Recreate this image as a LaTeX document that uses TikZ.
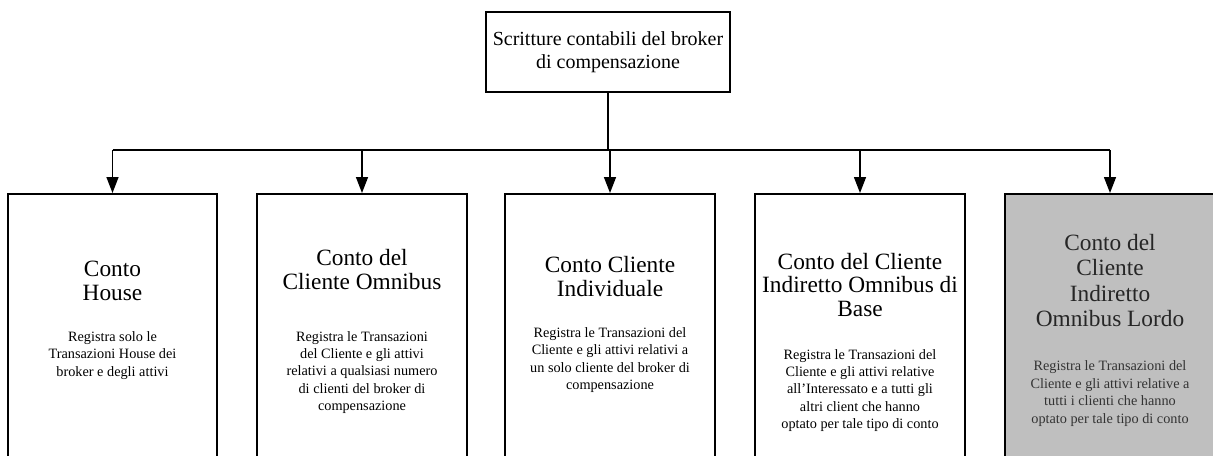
\documentclass[tikz,border=0pt]{standalone}
\usepackage{fontspec}
\setmainfont{Liberation Serif}
\usetikzlibrary{arrows.meta}
\begin{document}
\begin{tikzpicture}[x=0.75pt,y=-0.75pt,
  topbox/.style={draw=black,line width=1.5pt,minimum width=183pt,minimum height=60pt,align=center,inner sep=0pt,font=\fontsize{15}{17.2}\selectfont},
  acct/.style={draw=black,line width=1.5pt,minimum width=157pt,minimum height=217pt,anchor=north,inner sep=0pt},
  shaded/.style={fill=black!25},
  ttl/.style={align=center,inner sep=0pt,font=\fontsize{17.5}{17.8}\selectfont},
  dsc/.style={align=center,inner sep=0pt,font=\fontsize{10.7}{13.1}\selectfont},
  conn/.style={line width=1.1pt},
  arr/.style={line width=1.1pt,-{Triangle[length=12pt,width=9pt]}}]
\useasboundingbox (0,0) rectangle (1213,455);
\clip (0,0) rectangle (1213,455);
\fill[white] (0,0) rectangle (1213,455);

\node[topbox] (top) at (608,52) {Scritture contabili del broker\\di compensazione};

\node[acct] (b1) at (112.5,193) {};
\node[acct] (b2) at (362,193) {};
\node[acct] (b3) at (610,193) {};
\node[acct] (b4) at (860,193) {};
\node[acct,shaded] (b5) at (1110,193) {};

\coordinate (bus) at (608,150);
\draw[conn] (top.south) -- (top.south |- bus);
\draw[conn] (b1.north |- bus) -- (b5.north |- bus);
\foreach \b in {b1,b2,b3,b4,b5} \draw[arr] (\b.north |- bus) -- (\b.north);

\node[ttl] (t1) at (112.5,281) {Conto\\House};
\node[dsc] (d1) at (112.5,355.5) {Registra solo le\\Transazioni House dei\\broker e degli attivi};

\node[ttl] (t2) at (362,269.5) {Conto del\\Cliente Omnibus};
\node[dsc] (d2) at (362,372.5) {Registra le Transazioni\\del Cliente e gli attivi\\relativi a qualsiasi numero\\di clienti del broker di\\compensazione};

\node[ttl] (t3) at (610,276.5) {Conto Cliente\\Individuale};
\node[dsc] (d3) at (610,360) {Registra le Transazioni del\\Cliente e gli attivi relativi a\\un solo cliente del broker di\\compensazione};

\node[ttl] (t4) at (860,285) {Conto del Cliente\\Indiretto Omnibus di\\Base};
\node[dsc] (d4) at (860,390.5) {Registra le Transazioni del\\Cliente e gli attivi relative\\all’Interessato e a tutti gli\\altri client che hanno\\optato per tale tipo di conto};

\node[ttl,text=black!85,font=\fontsize{17.5}{18.8}\selectfont] (t5) at (1110,280.5) {Conto del\\Cliente\\Indiretto\\Omnibus Lordo};
\node[dsc,text=black!80] (d5) at (1110,393.5) {Registra le Transazioni del\\Cliente e gli attivi relative a\\tutti i clienti che hanno\\optato per tale tipo di conto};
\end{tikzpicture}
\end{document}
